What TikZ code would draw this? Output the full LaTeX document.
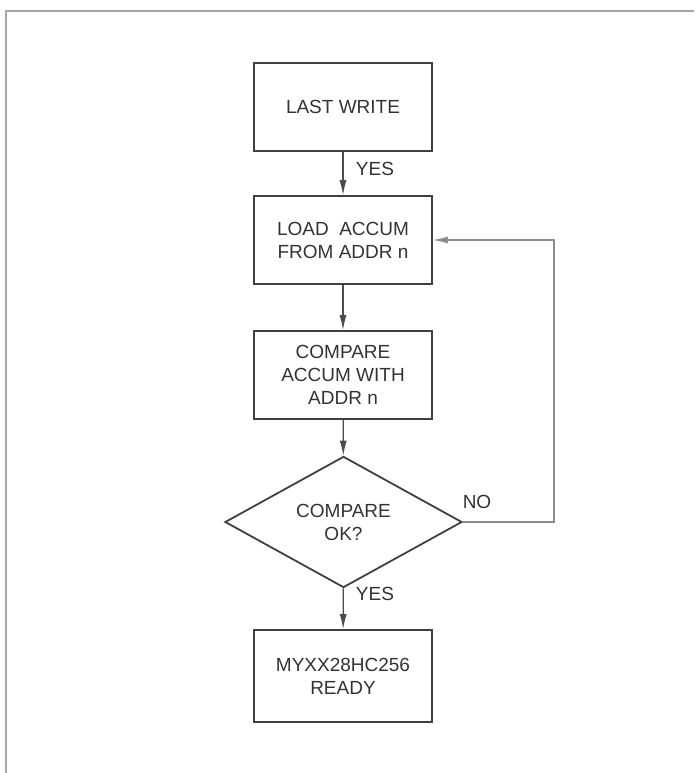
\documentclass[tikz,border=0pt]{standalone}
\usepackage{fontspec}
\setmainfont{Liberation Sans}
\usepackage{tikz}
\usetikzlibrary{shapes.geometric, arrows.meta}

\begin{document}
\begin{tikzpicture}[x=1pt, y=-1pt,
	stepbox/.style={draw=black!75, line width=1.8pt, minimum width=178pt, minimum height=88pt, align=center, font=\fontsize{19}{23}\selectfont, text=black!80},
	testbox/.style={draw=black!75, line width=1.8pt, diamond, minimum width=237pt, minimum height=119pt, inner sep=0pt, align=center, font=\fontsize{19}{23}\selectfont, text=black!80},
	flow/.style={draw=black!70, line width=1.2pt, -{Latex[length=15pt, width=7pt]}},
	back/.style={draw=black!45, line width=1.2pt, -{Latex[length=15pt, width=7pt]}},
	lbl/.style={font=\fontsize{19}{23}\selectfont, text=black!80}]
					\useasboundingbox (0,0) rectangle (694,773);
					\draw [black!35, line width=1.4pt] (6,773) -- (6,11) -- (694,11);
					\node[stepbox] (last) at (343,107) {LAST WRITE};
					\node[stepbox] (load) at (343,240) {LOAD\ \ ACCUM\\FROM ADDR n};
					\node[stepbox] (comp) at (343,375) {COMPARE\\ACCUM WITH\\ADDR n};
					\node[testbox] (ok) at (343.5,522) {COMPARE\\OK?};
					\node[stepbox, minimum height=92pt] (ready) at (343,676) {MYXX28HC256\\READY};
					\coordinate (loop) at (554,522);
					\draw [flow] (last) -- (load);
					\draw [flow] (load) -- (comp);
					\draw [flow] (comp) -- (ok);
					\draw [flow] (ok) -- (ready);
					\draw [back] (ok.east) -- (loop) |- (load.east);
					\node[lbl] (yes1) at (375,169) {YES};
					\node[lbl] (yes2) at (375,594) {YES};
					\node[lbl] (no) at (477,502) {NO};
\end{tikzpicture}
\end{document}
